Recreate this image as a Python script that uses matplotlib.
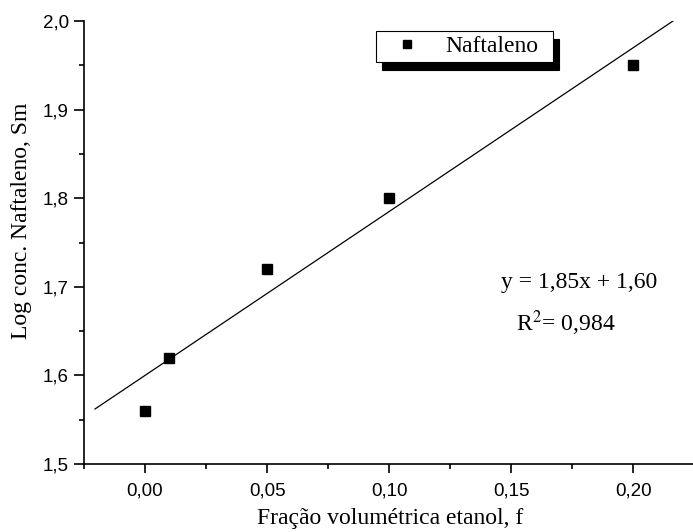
import matplotlib
matplotlib.use("Agg")
import matplotlib.pyplot as plt
from matplotlib.ticker import MultipleLocator, FuncFormatter
import numpy as np

f_values = [0.00, 0.01, 0.05, 0.10, 0.20]
log_sm = [1.56, 1.62, 1.72, 1.80, 1.95]
slope = 1.85
intercept = 1.60
fit_range = [-0.0205, 0.2165]
series_label = "Naftaleno"
xlabel = "Fração volumétrica etanol, f"
ylabel = "Log conc. Naftaleno, Sm"

plt.rcParams["mathtext.fontset"] = "stix"

fig = plt.figure(figsize=(6.93, 5.32), dpi=100)
ax = fig.add_axes([84/693, 1-464/532, 1-84/693, (464-21)/532])

xf = np.array(fit_range)
ax.plot(xf, slope*xf + intercept, color="black", lw=0.9)
ax.plot(f_values, log_sm, linestyle="none", marker="s", ms=6.8, color="black", label=series_label)

ax.set_xlim(-0.025, 0.2244)
ax.set_ylim(1.5, 2.0)
ax.xaxis.set_major_locator(MultipleLocator(0.05))
ax.xaxis.set_minor_locator(MultipleLocator(0.025))
ax.yaxis.set_major_locator(MultipleLocator(0.1))
ax.yaxis.set_minor_locator(MultipleLocator(0.05))
ax.xaxis.set_major_formatter(FuncFormatter(lambda v, p: f"{v:.2f}".replace(".", ",").replace("-0,00", "0,00")))
ax.yaxis.set_major_formatter(FuncFormatter(lambda v, p: f"{v:.1f}".replace(".", ",")))

for s in ["top", "right"]:
    ax.spines[s].set_visible(False)
for s in ["left", "bottom"]:
    ax.spines[s].set_linewidth(1.2)
ax.tick_params(axis="y", which="major", direction="out", length=7, width=1.2, labelsize=13.5, pad=4)
ax.tick_params(axis="x", which="major", direction="out", length=6.5, width=1.2, labelsize=13.5, pad=7)
ax.tick_params(which="minor", direction="out", length=3.6, width=1.2)
for lab in ax.get_xticklabels() + ax.get_yticklabels():
    lab.set_fontfamily("Liberation Sans")

serif = "Liberation Serif"
ax.set_xlabel(xlabel, fontfamily=serif, fontsize=17)
ax.set_ylabel(ylabel, fontfamily=serif, fontsize=17)
ax.xaxis.set_label_coords(0.502, -0.1)
ax.yaxis.set_label_coords(-0.086, 0.549)

leg = ax.legend(loc="upper left", bbox_to_anchor=(0.479, 0.877, 177/609, 0.1), mode="expand",
                borderaxespad=0,
                fancybox=False, edgecolor="black", framealpha=1,
                shadow={"color": "black", "alpha": 1, "ox": 4.5, "oy": -5.5},
                prop={"family": serif, "size": 17}, handlelength=2.29, handletextpad=0.47,
                borderpad=0.2, markerscale=0.85)
leg.get_frame().set_linewidth(0.8)

ax.text(0.1777, 1.7054, "y = 1,85x + 1,60", fontfamily=serif, fontsize=17, ha="center", va="center")
ax.text(0.1725, 1.659, "R$^2$= 0,984", fontfamily=serif, fontsize=17, ha="center", va="center")

fig.savefig("out.png", dpi=100)
